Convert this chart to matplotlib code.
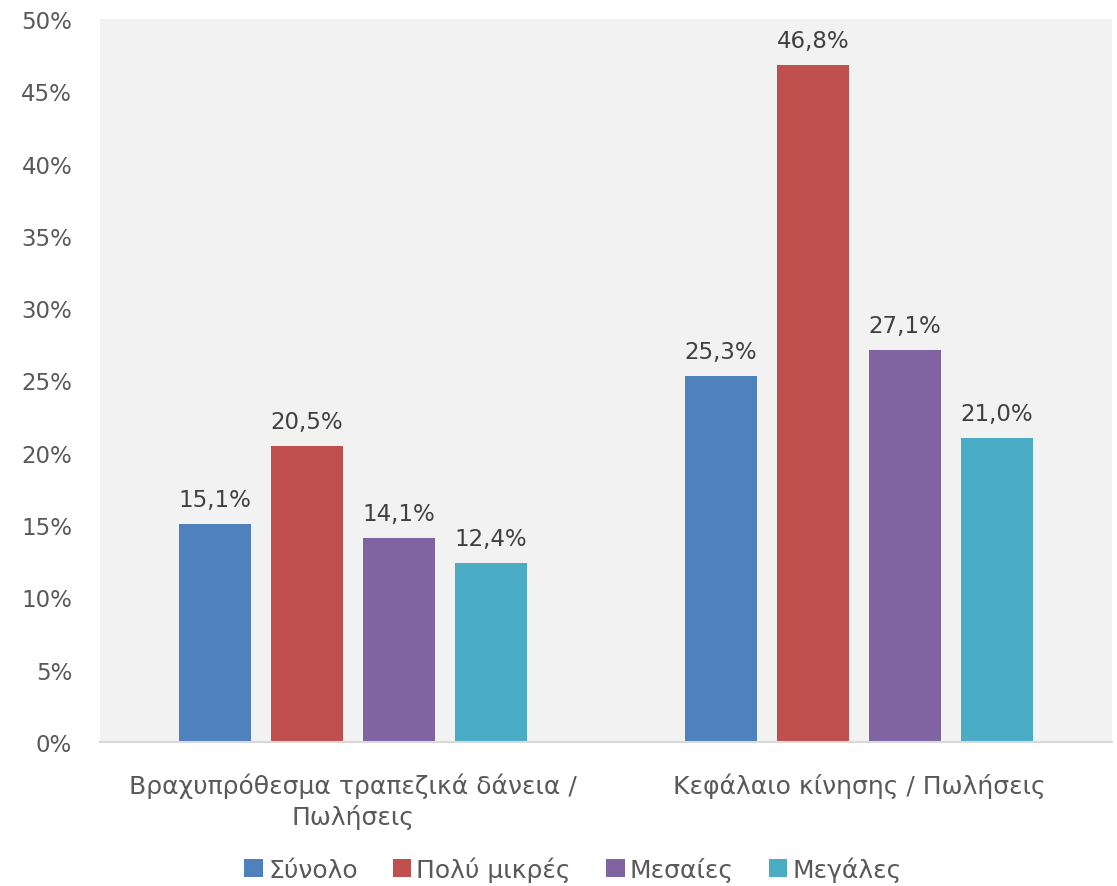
import numpy as np
import matplotlib.pyplot as plt
from matplotlib.ticker import FuncFormatter

plt.rcParams['font.family'] = ['DejaVu Sans']

categories = ['Βραχυπρόθεσμα τραπεζικά δάνεια /\nΠωλήσεις', 'Κεφάλαιο κίνησης / Πωλήσεις']
series = ['Σύνολο', 'Πολύ μικρές', 'Μεσαίες', 'Μεγάλες']
values = [
    [15.1, 25.3],
    [20.5, 46.8],
    [14.1, 27.1],
    [12.4, 21.0],
]
colors = ['#4f81bd', '#c0504d', '#8064a2', '#4bacc6']
text_color = '#595959'

fig = plt.figure(figsize=(11.17, 8.87), dpi=100)
ax = fig.add_axes([100 / 1117, 1 - 743 / 887, 1012 / 1117, 723 / 887])
ax.set_facecolor('#f2f2f2')

x = np.arange(len(categories))
width = 0.1423
step = 0.1818
for i, (name, vals) in enumerate(zip(series, values)):
    pos = x + (i - 1.5) * step
    bars = ax.bar(pos, vals, width, color=colors[i], label=name, zorder=2)
    for b, v in zip(bars, vals):
        ax.text(b.get_x() + b.get_width() / 2, v + 0.9, f'{v:.1f}%'.replace('.', ','),
                ha='center', va='bottom', fontsize=16.5, color='#404040')

ax.set_xlim(-0.5, 1.5)
ax.set_ylim(0, 50)
ax.set_yticks(np.arange(0, 51, 5))
ax.yaxis.set_major_formatter(FuncFormatter(lambda v, p: f'{v:.0f}%'))
ax.set_xticks(x)
ax.set_xticklabels(categories, fontsize=18, linespacing=1.3)
ax.tick_params(axis='both', length=0, labelcolor=text_color)
ax.tick_params(axis='y', labelsize=16.5, pad=20)
ax.tick_params(axis='x', pad=22)
for s in ['top', 'right', 'left']:
    ax.spines[s].set_visible(False)
ax.spines['bottom'].set_color('#d9d9d9')
ax.spines['bottom'].set_linewidth(1.5)

handles, labels = ax.get_legend_handles_labels()
leg = fig.legend(handles, labels, loc='center', bbox_to_anchor=(573 / 1117, 1 - 870 / 887), ncol=4,
                 frameon=False, fontsize=18, handlelength=0.75, handleheight=0.75,
                 handletextpad=0.2, columnspacing=1.4)
for t in leg.get_texts():
    t.set_color(text_color)

fig.savefig('out.png', dpi=100)
